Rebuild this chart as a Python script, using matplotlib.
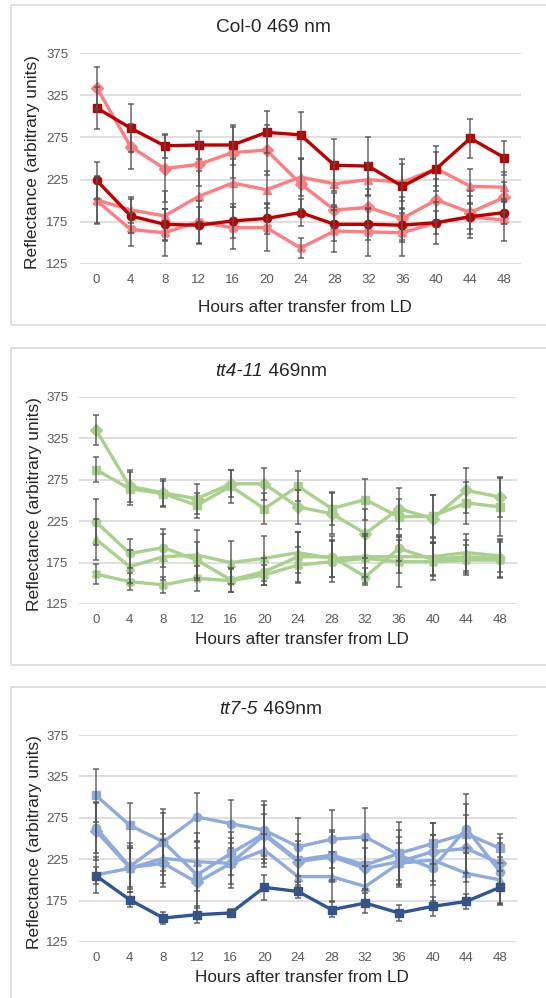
import numpy as np
import matplotlib
matplotlib.use("Agg")
import matplotlib.pyplot as plt
from matplotlib.patches import Rectangle

plt.rcParams["font.family"] = ["Liberation Sans", "DejaVu Sans"]

hours = [0, 4, 8, 12, 16, 20, 24, 28, 32, 36, 40, 44, 48]
y_ticks = [125, 175, 225, 275, 325, 375]

# Col-0 469 nm
col_a = [310, 286, 265, 266, 266, 281, 278, 242, 241, 217, 238, 274, 251]
col_a_err = [25, 28, 14, 16, 24, 25, 27, 31, 34, 32, 27, 23, 20]
col_b = [224, 182, 172, 171, 176, 179, 186, 172, 172, 171, 174, 181, 186]
col_b_err = [22, 20, 18, 22, 20, 18, 16, 20, 18, 20, 14, 15, 14]
col_c = [334, 264, 238, 243, 257, 260, 220, 189, 192, 179, 201, 186, 204]
col_c_err = [25, 27, 40, 25, 30, 30, 30, 20, 22, 25, 25, 25, 18]
col_d = [201, 189, 182, 205, 221, 213, 228, 220, 225, 222, 238, 217, 216]
col_d_err = [28, 15, 30, 30, 28, 22, 22, 25, 20, 22, 20, 20, 18]
col_e = [200, 166, 162, 175, 168, 168, 144, 164, 163, 162, 174, 181, 177]
col_e_err = [28, 20, 28, 25, 25, 28, 12, 25, 28, 28, 25, 25, 25]

# tt4-11 469nm
tt4_a = [335, 267, 259, 252, 270, 270, 242, 234, 210, 240, 228, 262, 254]
tt4_a_err = [18, 19, 17, 18, 16, 19, 20, 25, 30, 25, 28, 27, 24]
tt4_b = [287, 264, 258, 244, 267, 240, 267, 240, 251, 230, 231, 247, 242]
tt4_b_err = [15, 20, 15, 15, 20, 19, 18, 20, 25, 22, 25, 25, 35]
tt4_c = [224, 186, 193, 178, 154, 164, 182, 182, 158, 192, 179, 182, 180]
tt4_c_err = [28, 17, 23, 22, 14, 16, 30, 25, 10, 15, 20, 20, 22]
tt4_d = [203, 170, 182, 184, 175, 180, 187, 180, 182, 182, 182, 187, 183]
tt4_d_err = [25, 20, 28, 30, 26, 27, 25, 22, 25, 20, 22, 22, 20]
tt4_e = [161, 152, 148, 156, 153, 160, 172, 176, 180, 176, 176, 178, 178]
tt4_e_err = [12, 10, 10, 15, 14, 12, 22, 25, 30, 30, 22, 18, 22]

# tt7-5 469nm
tt7_dark = [205, 176, 154, 158, 160, 191, 186, 164, 172, 160, 168, 174, 191]
tt7_dark_err = [10, 9, 7, 10, 5, 15, 8, 9, 12, 10, 11, 9, 20]
tt7_a = [302, 266, 246, 206, 232, 256, 224, 230, 218, 232, 244, 256, 238]
tt7_a_err = [32, 27, 40, 40, 26, 35, 32, 30, 30, 38, 25, 48, 18]
tt7_b = [263, 216, 246, 276, 268, 260, 240, 249, 252, 230, 214, 262, 210]
tt7_b_err = [30, 25, 35, 29, 29, 35, 35, 35, 35, 30, 40, 30, 40]
tt7_c = [259, 215, 220, 197, 220, 254, 222, 228, 214, 222, 234, 238, 220]
tt7_c_err = [35, 30, 28, 41, 30, 25, 25, 30, 25, 30, 35, 40, 25]
tt7_d = [206, 214, 226, 222, 220, 236, 204, 204, 192, 220, 224, 208, 200]
tt7_d_err = [22, 25, 30, 35, 25, 20, 20, 30, 25, 25, 30, 30, 28]

W, H = 546, 998
fig = plt.figure(figsize=(W / 100, H / 100), dpi=100)
fig.patch.set_facecolor("white")

TEXT = "#262626"
TICK = "#595959"
GRID = "#d9d9d9"


def fx(x):
    return x / W


def fy(y):
    return 1 - y / H


def panel(box, axes_px, xlabel_y, ylabel_x, series):
    # light grey frame around the whole chart (right side runs off the image)
    x0, y0, y1 = box
    fig.patches.append(Rectangle((fx(x0), fy(y1)), 1.2, fy(y0) - fy(y1),
                                 transform=fig.transFigure, fill=False,
                                 edgecolor=GRID, lw=1.2))
    left, top, right, bottom = axes_px
    ax = fig.add_axes([fx(left), fy(bottom), fx(right - left), (bottom - top) / H])
    for vals, errs, color, marker in series:
        ax.plot(hours, vals, color=color, lw=2.4, marker=marker, ms=6,
                mec=color, mfc=color, zorder=2)
        ax.errorbar(hours, vals, yerr=errs, fmt="none", ecolor="#505050",
                    elinewidth=1.2, capsize=2.3, capthick=1.2, alpha=0.8, zorder=3)
    ax.set_xlim(-2, 50)
    ax.set_ylim(125, 375)
    ax.set_xticks(hours)
    ax.set_yticks(y_ticks)
    ax.yaxis.grid(True, color=GRID, lw=1.2)
    ax.set_axisbelow(True)
    for s in ax.spines.values():
        s.set_visible(False)
    ax.tick_params(length=0, labelsize=9.5, labelcolor=TICK)
    ax.tick_params(axis="y", pad=8)
    ax.tick_params(axis="x", pad=7)
    fig.text(fx((left + right) / 2 + 4), fy(xlabel_y), "Hours after transfer from LD",
             ha="center", va="center", fontsize=12.3, color=TEXT)
    fig.text(fx(ylabel_x), fy((top + bottom) / 2 + 4), "Reflectance (arbitrary units)",
             ha="center", va="center", rotation=90, fontsize=12.5, color=TEXT)
    return ax


red_dark = "#C00000"
red_light = "#FF7C80"
green = "#A9D18E"
blue_light = "#8FAADC"
blue_dark = "#2F5597"

panel((11, 5, 325), (79.7, 53, 521.3, 264), 307, 33, [
    (col_c, col_c_err, red_light, "D"),
    (col_d, col_d_err, red_light, "^"),
    (col_e, col_e_err, red_light, "X"),
    (col_a, col_a_err, red_dark, "s"),
    (col_b, col_b_err, red_dark, "o"),
])
fig.text(fx(273), fy(27), "Col-0 469 nm", ha="center", va="center",
         fontsize=13.8, color=TEXT)

panel((11, 348, 665), (79.2, 396.7, 516.8, 604), 640, 35, [
    (tt4_a, tt4_a_err, green, "D"),
    (tt4_b, tt4_b_err, green, "s"),
    (tt4_c, tt4_c_err, green, "o"),
    (tt4_d, tt4_d_err, green, "^"),
    (tt4_e, tt4_e_err, green, "X"),
])
fig.text(fx(263), fy(372), "tt4-11", ha="right", va="center",
         fontsize=13.8, color=TEXT, style="italic")
fig.text(fx(263), fy(372), " 469nm", ha="left", va="center", fontsize=13.8, color=TEXT)

panel((11, 687, 1010), (79.2, 735, 516.8, 942), 978, 35, [
    (tt7_a, tt7_a_err, blue_light, "s"),
    (tt7_b, tt7_b_err, blue_light, "o"),
    (tt7_c, tt7_c_err, blue_light, "D"),
    (tt7_d, tt7_d_err, blue_light, "^"),
    (tt7_dark, tt7_dark_err, blue_dark, "s"),
])
fig.text(fx(258), fy(709), "tt7-5", ha="right", va="center",
         fontsize=13.8, color=TEXT, style="italic")
fig.text(fx(258), fy(709), " 469nm", ha="left", va="center", fontsize=13.8, color=TEXT)

fig.savefig("out.png", dpi=100)
